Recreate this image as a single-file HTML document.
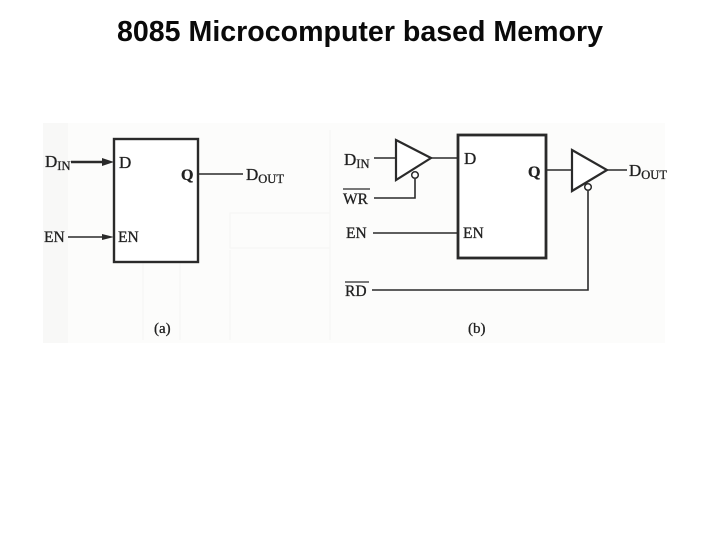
<!DOCTYPE html>
<html>
<head>
<meta charset="utf-8">
<style>
html,body{margin:0;padding:0;background:#fff;width:720px;height:540px;overflow:hidden}
svg{display:block}
text{font-family:"Liberation Serif",serif;fill:#222;stroke:#222;stroke-width:.3px}
.s{font-size:12.5px}
</style>
</head>
<body>
<svg width="720" height="540" viewBox="0 0 720 540" xmlns="http://www.w3.org/2000/svg">
<rect x="43" y="123" width="622" height="220" fill="#fcfcfb"/>
<rect x="43" y="123" width="25" height="220" fill="#f8f8f7"/>
<g fill="none" stroke="#f5f5f3" stroke-width="1">
<rect x="230" y="213" width="100" height="35"/>
<path d="M143 250V340M180 250V340M230 250V340M330 130V340"/>
</g>
<text x="117" y="41" textLength="486" lengthAdjust="spacingAndGlyphs" style="font-family:'Liberation Sans',sans-serif;font-weight:bold;font-size:29px;fill:#0a0a0a;stroke:none">8085 Microcomputer based Memory</text>

<!-- (a) -->
<rect x="114" y="139" width="84" height="123" fill="#fff" stroke="#2a2a2a" stroke-width="2.4"/>
<path d="M71 162H107" stroke="#2a2a2a" stroke-width="2.6" fill="none"/>
<path d="M102 158L114 162L102 166Z" fill="#2a2a2a"/>
<path d="M68 237H107" stroke="#2a2a2a" stroke-width="1.5" fill="none"/>
<path d="M102 234L114 237L102 240Z" fill="#2a2a2a"/>
<path d="M198 174H243" stroke="#2a2a2a" stroke-width="1.5" fill="none"/>
<text x="45" y="167" font-size="17">D<tspan class="s" dy="3">IN</tspan></text>
<text x="44" y="242" font-size="15.5">EN</text>
<text x="119" y="168" font-size="17">D</text>
<text x="118" y="242" font-size="15.5">EN</text>
<text x="181" y="180" font-size="16" font-weight="bold">Q</text>
<text x="246" y="180" font-size="17">D<tspan class="s" dy="3">OUT</tspan></text>
<text x="154" y="333" font-size="15">(a)</text>

<!-- (b) -->
<rect x="458" y="135" width="88" height="123" fill="#fff" stroke="#2a2a2a" stroke-width="2.8"/>
<path d="M374 158H396M431 158H457M415 179V198H374M373 233H457M546 170H571M607 170H627M588 191V290H372" stroke="#2a2a2a" stroke-width="1.6" fill="none"/>
<path d="M396 140L431 158L396 180Z" fill="#fff" stroke="#2a2a2a" stroke-width="2.2"/>
<path d="M572 150L607 170L572 191Z" fill="#fff" stroke="#2a2a2a" stroke-width="2.2"/>
<circle cx="415" cy="175" r="3.3" fill="#fff" stroke="#2a2a2a" stroke-width="1.5"/>
<circle cx="588" cy="187" r="3.3" fill="#fff" stroke="#2a2a2a" stroke-width="1.5"/>
<text x="344" y="165" font-size="17">D<tspan class="s" dy="3">IN</tspan></text>
<text x="343" y="204" font-size="15.5">WR</text>
<path d="M343 189H370" stroke="#2a2a2a" stroke-width="1.2"/>
<text x="346" y="238" font-size="15.5">EN</text>
<text x="345" y="296" font-size="15.5">RD</text>
<path d="M345 282H369" stroke="#2a2a2a" stroke-width="1.2"/>
<text x="464" y="164" font-size="17">D</text>
<text x="463" y="238" font-size="15.5">EN</text>
<text x="528" y="177" font-size="16" font-weight="bold">Q</text>
<text x="629" y="176" font-size="17">D<tspan class="s" dy="3">OUT</tspan></text>
<text x="468" y="333" font-size="15">(b)</text>
</svg>
</body>
</html>
